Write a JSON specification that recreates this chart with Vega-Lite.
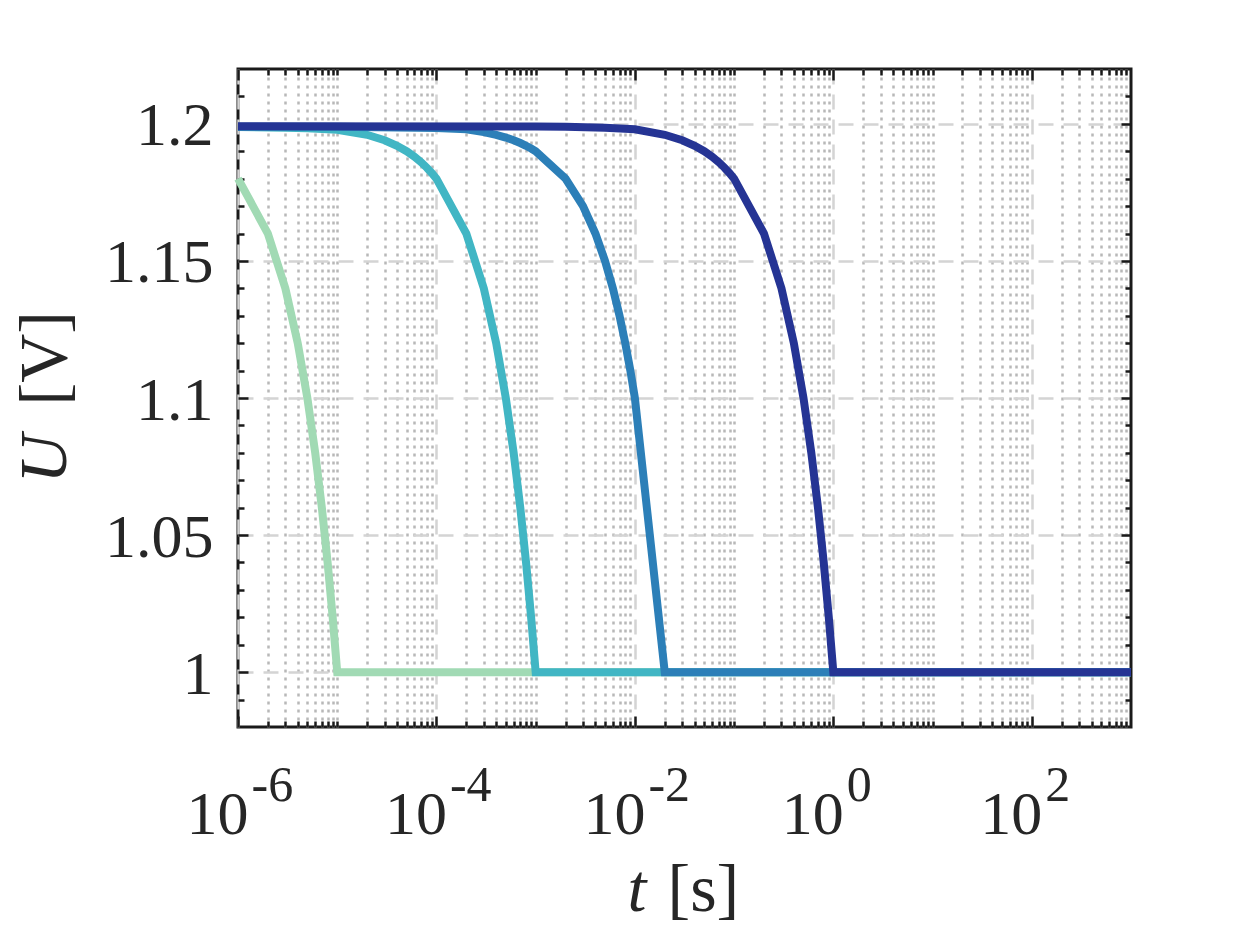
{
  "$schema": "https://vega.github.io/schema/vega-lite/v6.json",
  "width": 893,
  "height": 658,
  "autosize": {"type": "none"},
  "padding": {"left": 238, "top": 69, "right": 119, "bottom": 211},
  "background": "white",
  "config": {
    "view": {"stroke": "#1a1a1a", "strokeWidth": 3},
    "axis": {
      "domain": false,
      "labelFont": "Liberation Serif",
      "labelFontSize": 62,
      "labelColor": "#262626",
      "titleFont": "Liberation Serif",
      "titleFontSize": 68,
      "titleFontWeight": "normal",
      "titleColor": "#262626",
      "tickColor": "#1a1a1a",
      "tickWidth": 2.5
    }
  },
  "data": {
    "values": [
      {"t": 1e-6, "U": 1.18, "s": "s1"},
      {"t": 2e-6, "U": 1.16, "s": "s1"},
      {"t": 3e-6, "U": 1.14, "s": "s1"},
      {"t": 4e-6, "U": 1.12, "s": "s1"},
      {"t": 5e-6, "U": 1.10, "s": "s1"},
      {"t": 6e-6, "U": 1.08, "s": "s1"},
      {"t": 7e-6, "U": 1.06, "s": "s1"},
      {"t": 8e-6, "U": 1.04, "s": "s1"},
      {"t": 9e-6, "U": 1.02, "s": "s1"},
      {"t": 1e-5, "U": 1.00, "s": "s1"},
      {"t": 1000, "U": 1.00, "s": "s1"},

      {"t": 1e-6, "U": 1.1988, "s": "s2"},
      {"t": 3e-6, "U": 1.1986, "s": "s2"},
      {"t": 5e-6, "U": 1.1984, "s": "s2"},
      {"t": 1e-5, "U": 1.1978, "s": "s2"},
      {"t": 2e-5, "U": 1.196, "s": "s2"},
      {"t": 3e-5, "U": 1.194, "s": "s2"},
      {"t": 4e-5, "U": 1.192, "s": "s2"},
      {"t": 5e-5, "U": 1.19, "s": "s2"},
      {"t": 6e-5, "U": 1.188, "s": "s2"},
      {"t": 7e-5, "U": 1.186, "s": "s2"},
      {"t": 8e-5, "U": 1.184, "s": "s2"},
      {"t": 9e-5, "U": 1.182, "s": "s2"},
      {"t": 1e-4, "U": 1.18, "s": "s2"},
      {"t": 2e-4, "U": 1.16, "s": "s2"},
      {"t": 3e-4, "U": 1.14, "s": "s2"},
      {"t": 4e-4, "U": 1.12, "s": "s2"},
      {"t": 5e-4, "U": 1.10, "s": "s2"},
      {"t": 6e-4, "U": 1.08, "s": "s2"},
      {"t": 7e-4, "U": 1.06, "s": "s2"},
      {"t": 8e-4, "U": 1.04, "s": "s2"},
      {"t": 9e-4, "U": 1.02, "s": "s2"},
      {"t": 1e-3, "U": 1.00, "s": "s2"},
      {"t": 1000, "U": 1.00, "s": "s2"},

      {"t": 1e-6, "U": 1.1989, "s": "s3"},
      {"t": 1e-5, "U": 1.1989, "s": "s3"},
      {"t": 1e-4, "U": 1.1985, "s": "s3"},
      {"t": 2e-4, "U": 1.198, "s": "s3"},
      {"t": 3e-4, "U": 1.197, "s": "s3"},
      {"t": 4e-4, "U": 1.196, "s": "s3"},
      {"t": 5e-4, "U": 1.195, "s": "s3"},
      {"t": 6e-4, "U": 1.194, "s": "s3"},
      {"t": 7e-4, "U": 1.193, "s": "s3"},
      {"t": 8e-4, "U": 1.192, "s": "s3"},
      {"t": 9e-4, "U": 1.191, "s": "s3"},
      {"t": 1e-3, "U": 1.19, "s": "s3"},
      {"t": 2e-3, "U": 1.18, "s": "s3"},
      {"t": 3e-3, "U": 1.17, "s": "s3"},
      {"t": 4e-3, "U": 1.16, "s": "s3"},
      {"t": 5e-3, "U": 1.15, "s": "s3"},
      {"t": 6e-3, "U": 1.14, "s": "s3"},
      {"t": 7e-3, "U": 1.13, "s": "s3"},
      {"t": 8e-3, "U": 1.12, "s": "s3"},
      {"t": 9e-3, "U": 1.11, "s": "s3"},
      {"t": 1e-2, "U": 1.10, "s": "s3"},
      {"t": 2e-2, "U": 1.00, "s": "s3"},
      {"t": 1000, "U": 1.00, "s": "s3"},

      {"t": 1e-6, "U": 1.1991, "s": "s4"},
      {"t": 1e-3, "U": 1.199, "s": "s4"},
      {"t": 2e-3, "U": 1.1989, "s": "s4"},
      {"t": 5e-3, "U": 1.1986, "s": "s4"},
      {"t": 1e-2, "U": 1.198, "s": "s4"},
      {"t": 2e-2, "U": 1.196, "s": "s4"},
      {"t": 3e-2, "U": 1.194, "s": "s4"},
      {"t": 4e-2, "U": 1.192, "s": "s4"},
      {"t": 5e-2, "U": 1.19, "s": "s4"},
      {"t": 6e-2, "U": 1.188, "s": "s4"},
      {"t": 7e-2, "U": 1.186, "s": "s4"},
      {"t": 8e-2, "U": 1.184, "s": "s4"},
      {"t": 9e-2, "U": 1.182, "s": "s4"},
      {"t": 0.1, "U": 1.18, "s": "s4"},
      {"t": 0.2, "U": 1.16, "s": "s4"},
      {"t": 0.3, "U": 1.14, "s": "s4"},
      {"t": 0.4, "U": 1.12, "s": "s4"},
      {"t": 0.5, "U": 1.10, "s": "s4"},
      {"t": 0.6, "U": 1.08, "s": "s4"},
      {"t": 0.7, "U": 1.06, "s": "s4"},
      {"t": 0.8, "U": 1.04, "s": "s4"},
      {"t": 0.9, "U": 1.02, "s": "s4"},
      {"t": 1, "U": 1.00, "s": "s4"},
      {"t": 1000, "U": 1.00, "s": "s4"}
    ]
  },
  "resolve": {"axis": {"x": "independent", "y": "independent"}},
  "layer": [
    {
      "mark": {"type": "line", "opacity": 0},
      "encoding": {
        "x": {
          "field": "t", "type": "quantitative",
          "scale": {"type": "log", "domain": [1e-6, 1000], "nice": false},
          "axis": {
            "orient": "bottom", "labels": false,
            "values": [2e-6, 3e-6, 4e-6, 5e-6, 6e-6, 7e-6, 8e-6, 9e-6, 1e-5, 2e-5, 3e-5, 4e-5, 5e-5, 6e-5, 7e-5, 8e-5, 9e-5,
                       2e-4, 3e-4, 4e-4, 5e-4, 6e-4, 7e-4, 8e-4, 9e-4, 1e-3, 2e-3, 3e-3, 4e-3, 5e-3, 6e-3, 7e-3, 8e-3, 9e-3,
                       2e-2, 3e-2, 4e-2, 5e-2, 6e-2, 7e-2, 8e-2, 9e-2, 0.1, 0.2, 0.3, 0.4, 0.5, 0.6, 0.7, 0.8, 0.9,
                       2, 3, 4, 5, 6, 7, 8, 9, 10, 20, 30, 40, 50, 60, 70, 80, 90,
                       200, 300, 400, 500, 600, 700, 800, 900],
            "grid": true, "gridColor": "#b8b8b8", "gridDash": [3, 5], "gridWidth": 2.5,
            "ticks": true, "tickSize": -6,
            "title": "t", "titleFontStyle": "italic",
            "titleX": 389, "titleY": 183, "titleBaseline": "alphabetic", "titleAlign": "left"
          }
        },
        "y": {
          "field": "U", "type": "quantitative",
          "scale": {"domain": [0.98, 1.22], "nice": false, "zero": false},
          "axis": {
            "orient": "left", "labels": false,
            "values": [1, 1.05, 1.1, 1.15, 1.2],
            "grid": true, "gridColor": "#d4d4d4", "gridDash": [15, 10], "gridWidth": 2.5,
            "ticks": true, "tickSize": -10,
            "title": "U", "titleFontStyle": "italic",
            "titleX": -173, "titleY": 414, "titleAngle": -90, "titleBaseline": "alphabetic", "titleAlign": "left"
          }
        }
      }
    },
    {
      "mark": {"type": "line", "opacity": 0},
      "encoding": {
        "x": {
          "field": "t", "type": "quantitative",
          "scale": {"type": "log", "domain": [1e-6, 1000], "nice": false},
          "axis": {
            "orient": "bottom", "title": null, "labels": false,
            "values": [1e-6, 1e-4, 1e-2, 1, 100],
            "grid": true, "gridColor": "#d4d4d4", "gridDash": [15, 10], "gridWidth": 2.5,
            "ticks": true, "tickSize": -11
          }
        },
        "y": {
          "field": "U", "type": "quantitative",
          "scale": {"domain": [0.98, 1.22], "nice": false, "zero": false},
          "axis": {
            "orient": "left", "title": null, "labels": false, "grid": false,
            "values": [0.99, 1.01, 1.02, 1.03, 1.04, 1.06, 1.07, 1.08, 1.09, 1.11, 1.12, 1.13, 1.14, 1.16, 1.17, 1.18, 1.19, 1.21],
            "ticks": true, "tickSize": -6
          }
        }
      }
    },
    {
      "mark": {"type": "line", "opacity": 0},
      "encoding": {
        "x": {
          "field": "t", "type": "quantitative",
          "scale": {"type": "log", "domain": [1e-6, 1000], "nice": false},
          "axis": {
            "orient": "top", "title": null, "labels": false, "grid": false,
            "values": [2e-6, 3e-6, 4e-6, 5e-6, 6e-6, 7e-6, 8e-6, 9e-6, 1e-5, 2e-5, 3e-5, 4e-5, 5e-5, 6e-5, 7e-5, 8e-5, 9e-5,
                       2e-4, 3e-4, 4e-4, 5e-4, 6e-4, 7e-4, 8e-4, 9e-4, 1e-3, 2e-3, 3e-3, 4e-3, 5e-3, 6e-3, 7e-3, 8e-3, 9e-3,
                       2e-2, 3e-2, 4e-2, 5e-2, 6e-2, 7e-2, 8e-2, 9e-2, 0.1, 0.2, 0.3, 0.4, 0.5, 0.6, 0.7, 0.8, 0.9,
                       2, 3, 4, 5, 6, 7, 8, 9, 10, 20, 30, 40, 50, 60, 70, 80, 90,
                       200, 300, 400, 500, 600, 700, 800, 900],
            "ticks": true, "tickSize": -6
          }
        },
        "y": {
          "field": "U", "type": "quantitative",
          "scale": {"domain": [0.98, 1.22], "nice": false, "zero": false},
          "axis": {
            "orient": "right", "title": null, "labels": false, "grid": false,
            "values": [1, 1.05, 1.1, 1.15, 1.2],
            "ticks": true, "tickSize": -10
          }
        }
      }
    },
    {
      "mark": {"type": "line", "opacity": 0},
      "encoding": {
        "x": {
          "field": "t", "type": "quantitative",
          "scale": {"type": "log", "domain": [1e-6, 1000], "nice": false},
          "axis": {
            "orient": "top", "title": null, "labels": false, "grid": false,
            "values": [1e-6, 1e-4, 1e-2, 1, 100],
            "ticks": true, "tickSize": -11
          }
        },
        "y": {
          "field": "U", "type": "quantitative",
          "scale": {"domain": [0.98, 1.22], "nice": false, "zero": false},
          "axis": {
            "orient": "right", "title": null, "labels": false, "grid": false,
            "values": [0.99, 1.01, 1.02, 1.03, 1.04, 1.06, 1.07, 1.08, 1.09, 1.11, 1.12, 1.13, 1.14, 1.16, 1.17, 1.18, 1.19, 1.21],
            "ticks": true, "tickSize": -6
          }
        }
      }
    },
    {
      "mark": {"type": "line", "opacity": 0},
      "encoding": {
        "x": {
          "field": "t", "type": "quantitative",
          "scale": {"type": "log", "domain": [1e-6, 1000], "nice": false},
          "axis": {
            "orient": "bottom", "grid": false, "ticks": false,
            "values": [1e-6, 1e-4, 1e-2, 1, 100],
            "labelExpr": "'10'",
            "labelAlign": "right", "labelOffset": 10,
            "labelBaseline": "alphabetic", "labelPadding": 106, "labelFlush": false, "labelOverlap": false,
            "title": "[s]",
            "titleX": 429, "titleY": 183, "titleBaseline": "alphabetic", "titleAlign": "left"
          }
        },
        "y": {
          "field": "U", "type": "quantitative",
          "scale": {"domain": [0.98, 1.22], "nice": false, "zero": false},
          "axis": {
            "orient": "left", "grid": false, "ticks": false,
            "values": [1, 1.05, 1.1, 1.15, 1.2],
            "format": "~g",
            "labelBaseline": "middle", "labelPadding": 25, "labelOffset": 2,
            "title": "[V]",
            "titleX": -173, "titleY": 336, "titleAngle": -90, "titleBaseline": "alphabetic", "titleAlign": "left"
          }
        }
      }
    },
    {
      "mark": {"type": "line", "opacity": 0},
      "encoding": {
        "x": {
          "field": "t", "type": "quantitative",
          "scale": {"type": "log", "domain": [1e-6, 1000], "nice": false},
          "axis": {
            "orient": "bottom", "grid": false, "ticks": false, "title": null,
            "values": [1e-6, 1e-4, 1e-2, 1, 100],
            "labelExpr": "datum.value < 2e-6 ? '-6' : datum.value < 2e-4 ? '-4' : datum.value < 0.02 ? '-2' : datum.value < 2 ? '0' : '2'",
            "labelFontSize": 50,
            "labelAlign": "left", "labelOffset": 13,
            "labelBaseline": "alphabetic", "labelPadding": 73, "labelFlush": false, "labelOverlap": false
          }
        },
        "y": {
          "field": "U", "type": "quantitative",
          "scale": {"domain": [0.98, 1.22], "nice": false, "zero": false},
          "axis": null
        }
      }
    },
    {
      "mark": {"type": "line", "strokeWidth": 8},
      "encoding": {
        "x": {
          "field": "t", "type": "quantitative",
          "scale": {"type": "log", "domain": [1e-6, 1000], "nice": false},
          "axis": null
        },
        "y": {
          "field": "U", "type": "quantitative",
          "scale": {"domain": [0.98, 1.22], "nice": false, "zero": false},
          "axis": null
        },
        "color": {
          "field": "s", "type": "nominal",
          "scale": {"domain": ["s1", "s2", "s3", "s4"], "range": ["#a1dab4", "#41b6c4", "#2c7fb8", "#253494"]},
          "legend": null
        }
      }
    }
  ]
}
